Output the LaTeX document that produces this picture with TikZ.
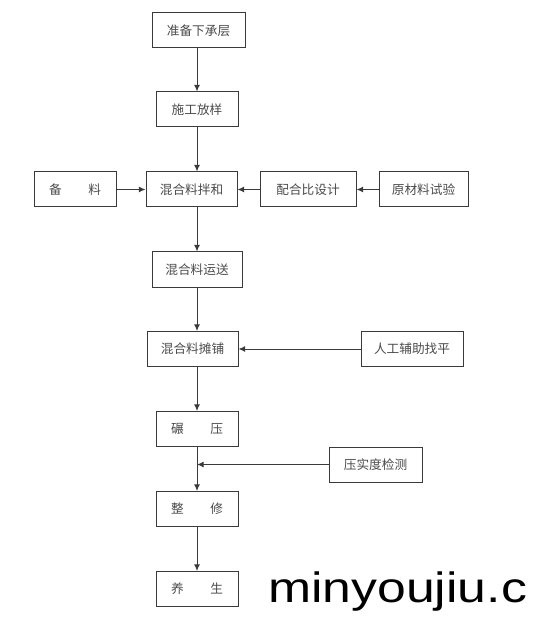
\documentclass[tikz,border=0pt]{standalone}
\usepackage{fontspec}
\setmainfont{Liberation Sans}
\newfontfamily\cjk{Noto Sans CJK SC}
\usetikzlibrary{arrows.meta, positioning}
\definecolor{FlowLine}{HTML}{3A3A3A}
\definecolor{FlowText}{HTML}{4A4A4A}
\tikzset{
   stepbox/.style={draw=FlowLine, line width=0.75pt, minimum height=26.25pt, inner sep=0pt,
      font=\cjk\fontsize{9.5}{11}\selectfont, text=FlowText},
   flow/.style={-{Latex[length=5pt, width=4.5pt]}, FlowLine, line width=0.75pt}
}
\newcommand{\gapped}[2]{#1\hspace{2.1em}#2}
\begin{document}
\begin{tikzpicture}[x=0.75pt, y=-0.75pt]
      \useasboundingbox (0,0) rectangle (533,634);
      \coordinate (spine) at (197,0);
      % Main column
      \node[stepbox, minimum width=69.75pt] (prep) at (198.5,30.5) {准备下承层};
      \node[stepbox, minimum width=61.5pt] (layout) at (197,109.5) {施工放样};
      \node[stepbox, minimum width=68.25pt] (mix) at (191.5,189.5) {混合料拌和};
      \node[stepbox, minimum width=67.5pt] (haul) at (197,269.5) {混合料运送};
      \node[stepbox, minimum width=68.25pt] (spread) at (192.5,349) {混合料摊铺};
      \node[stepbox, minimum width=61.5pt] (roll) at (197,429) {\gapped{碾}{压}};
      \node[stepbox, minimum width=61.5pt] (trim) at (197,509) {\gapped{整}{修}};
      \node[stepbox, minimum width=61.5pt] (cure) at (197,589) {\gapped{养}{生}};
      % Side inputs
      \node[stepbox, minimum width=61.5pt] (stock) at (75,189.5) {\gapped{备}{料}};
      \node[stepbox, minimum width=72pt] (design) at (308,189.5) {配合比设计};
      \node[stepbox, minimum width=66.75pt] (test) at (423.5,189.5) {原材料试验};
      \node[stepbox, minimum width=76.5pt] (level) at (412,349) {人工辅助找平};
      \node[stepbox, minimum width=69.75pt] (check) at (375.5,464.5) {压实度检测};
      % Main flow
      \draw[flow] (prep.south -| spine) -- (layout.north -| spine);
      \draw[flow] (layout.south -| spine) -- (mix.north -| spine);
      \draw[flow] (mix.south -| spine) -- (haul.north -| spine);
      \draw[flow] (haul.south -| spine) -- (spread.north -| spine);
      \draw[flow] (spread.south -| spine) -- (roll.north -| spine);
      \draw[flow] (roll.south -| spine) -- (trim.north -| spine);
      \draw[flow] (trim.south -| spine) -- (cure.north -| spine);
      % Side arrows
      \draw[flow] (stock.east) -- (mix.west);
      \draw[flow] (design.west) -- (mix.east);
      \draw[flow] (test.west) -- (design.east);
      \draw[flow] (level.west) -- (spread.east |- level.west);
      \draw[flow] (check.west) -- (check.west -| spine);
      % Watermark
      \node[anchor=base west, inner sep=0pt, font=\fontsize{31.8}{36}\selectfont, text=black] (mark)
         at (268,602) {\scalebox{1.22}[1]{minyoujiu.c}};
   \end{tikzpicture}
\end{document}
